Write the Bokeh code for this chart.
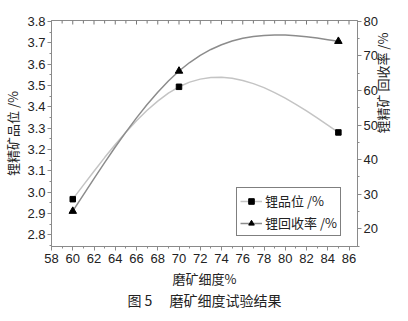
import math
from bokeh.plotting import figure
from bokeh.models import (Range1d, LinearAxis, SingleIntervalTicker, Legend, LegendItem, Title,
                          PrintfTickFormatter)
from bokeh.embed import file_html
from bokeh.resources import INLINE

# measured points
x_points = [60, 70, 85]
grade = [2.967, 3.494, 3.28]
recovery = [25.1, 65.6, 74.2]

# smoothed connecting curves
curve_x = [60, 61, 62, 63, 64, 65, 66, 67, 68, 69, 70, 71, 72, 73, 74, 75, 76, 77, 78, 79, 80, 81, 82, 83, 84, 85]
grade_curve = [2.967, 3.033, 3.098, 3.162, 3.223, 3.281, 3.335, 3.384, 3.427, 3.464, 3.494,
               3.516, 3.530, 3.538, 3.539, 3.534, 3.524, 3.509, 3.490, 3.467, 3.441, 3.412,
               3.381, 3.348, 3.314, 3.280]
recovery_curve = [25.1, 29.84, 34.53, 39.15, 43.64, 47.96, 52.07, 55.93, 59.50, 62.74, 65.6,
                  68.06, 70.12, 71.83, 73.20, 74.27, 75.05, 75.59, 75.90, 76.02, 75.98, 75.79,
                  75.49, 75.12, 74.67, 74.21]

# tick values of the top frame edge (inward ticks)
top_major_ticks = [58, 60, 62, 64, 66, 68, 70, 72, 74, 76, 78, 80, 82, 84, 86]
top_minor_ticks = [59, 61, 63, 65, 67, 69, 71, 73, 75, 77, 79, 81, 83, 85]

x_label = "磨矿细度%"
left_label = "锂精矿品位 /%"
right_label = "锂精矿 回收率 /%"
legend_labels = ["锂品位 /%", "锂回收率 /%"]
caption = "图 5 \u3000磨矿细度试验结果"

CJK = "Noto Sans CJK SC"
NUM = "Liberation Sans"
TXT = "#222222"
AX = "#8a8a8a"

FRAME_H = 226  # approx. frame height in px, used to size the top tick marks
y_left = Range1d(2.745, 3.805)
p = figure(width=408, height=321, x_range=Range1d(58, 86.8), y_range=y_left,
           output_backend="svg", toolbar_location=None,
           min_border_left=51, min_border_right=51, min_border_top=20, min_border_bottom=75)
p.extra_y_ranges = {"rec": Range1d(14.9, 80.2)}
p.grid.visible = False
p.outline_line_color = AX
p.background_fill_color = "white"
p.border_fill_color = "white"

def style(ax):
    ax.axis_line_color = AX
    ax.major_tick_line_color = AX
    ax.minor_tick_line_color = AX
    ax.major_tick_out = 4
    ax.major_tick_in = 0
    ax.minor_tick_out = 2
    ax.minor_tick_in = 0
    ax.major_label_text_font = NUM
    ax.major_label_text_font_size = "13px"
    ax.major_label_text_color = TXT
    ax.major_label_standoff = 2
    ax.axis_label_text_font = CJK
    ax.axis_label_text_font_size = "13px"
    ax.axis_label_text_font_style = "normal"
    ax.axis_label_text_color = TXT

xa = p.xaxis[0]
xa.ticker = SingleIntervalTicker(interval=2, num_minor_ticks=2)
style(xa)
xa.major_label_standoff = 3
xa.axis_label = x_label
xa.axis_label_standoff = 3

ya = p.yaxis[0]
ya.ticker = SingleIntervalTicker(interval=0.1, num_minor_ticks=2)
ya.formatter = PrintfTickFormatter(format="%.1f")
style(ya)
ya.axis_label = left_label
ya.axis_label_standoff = 2

ra = LinearAxis(y_range_name="rec", ticker=SingleIntervalTicker(interval=10, num_minor_ticks=2))
style(ra)
ra.axis_label = right_label
ra.axis_label_standoff = 2
ra.axis_label_orientation = math.pi / 2
p.add_layout(ra, "right")

# inward tick marks on the top edge
px = (y_left.end - y_left.start) / FRAME_H
top_y = y_left.end
p.segment(x0=top_major_ticks, y0=[top_y] * len(top_major_ticks),
          x1=top_major_ticks, y1=[top_y - 4 * px] * len(top_major_ticks),
          line_color="#777777", line_width=1)
p.segment(x0=top_minor_ticks, y0=[top_y] * len(top_minor_ticks),
          x1=top_minor_ticks, y1=[top_y - 3 * px] * len(top_minor_ticks),
          line_color="#777777", line_width=1)

gl = p.line(curve_x, grade_curve, line_color="#c4c4c4", line_width=1.5)
rl = p.line(curve_x, recovery_curve, line_color="#8c8c8c", line_width=1.5, y_range_name="rec")
gs = p.scatter(x_points, grade, marker="square", size=5.5, color="black")
rs = p.scatter(x_points, recovery, marker="triangle", size=7.5, color="black", y_range_name="rec")

legend = Legend(items=[LegendItem(label=legend_labels[0], renderers=[gl, gs]),
                       LegendItem(label=legend_labels[1], renderers=[rl, rs])],
                location=(185, 10))
legend.border_line_color = "black"
legend.border_line_width = 1
legend.label_text_font = CJK
legend.label_text_font_size = "13px"
legend.label_text_color = TXT
legend.glyph_width = 22
legend.glyph_height = 14
legend.label_height = 14
legend.spacing = 3
legend.padding = 3
legend.margin = 0
legend.label_standoff = 3
p.add_layout(legend)

p.add_layout(Title(text=caption, align="center", text_font=CJK, text_font_size="14px",
                   text_font_style="normal", text_color=TXT, standoff=-6), "below")

open("out.html", "w").write(file_html(p, INLINE))
